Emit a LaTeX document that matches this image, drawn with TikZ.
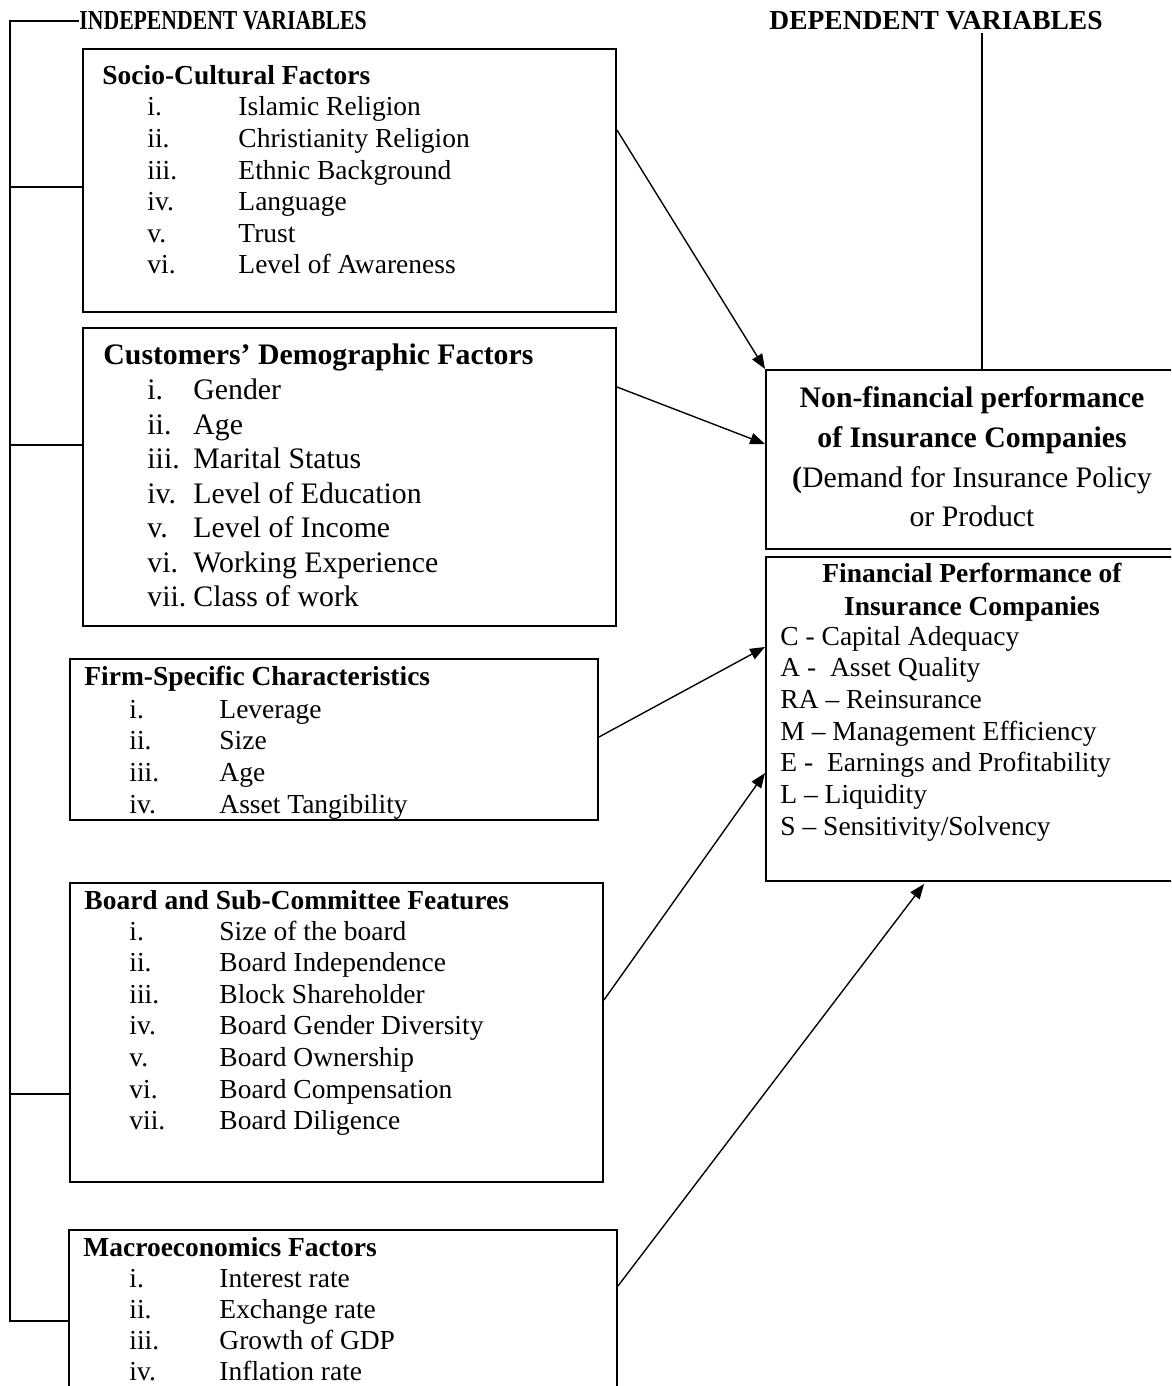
\documentclass[tikz,border=0pt]{standalone}
\usepackage{fontspec}
\setmainfont{Liberation Serif}
\usepackage{graphicx}
\usetikzlibrary{arrows.meta}
\newcommand\pxu{0.4367pt}
\tikzset{
  box/.style={draw, line width=0.85pt, inner sep=0pt, anchor=north west},
  conn/.style={line width=0.6pt},
  arr/.style={conn, -{Triangle[length=6.5pt,width=5pt]}},
  brk/.style={line width=0.75pt},
  txt/.style={inner sep=0pt, anchor=base west, font=\fontsize{12}{14}\selectfont},
  txtb/.style={inner sep=0pt, anchor=base west, font=\fontsize{12}{14}\selectfont\bfseries},
  txtl/.style={inner sep=0pt, anchor=base west, font=\fontsize{13}{15}\selectfont},
  txtlb/.style={inner sep=0pt, anchor=base west, font=\fontsize{13}{15}\selectfont\bfseries},
  ctxt/.style={inner sep=0pt, anchor=base, font=\fontsize{13}{15}\selectfont},
  ctxtb/.style={inner sep=0pt, anchor=base, font=\fontsize{13}{15}\selectfont\bfseries},
  fctxtb/.style={inner sep=0pt, anchor=base, font=\fontsize{12}{14}\selectfont\bfseries},
}
\begin{document}
\begin{tikzpicture}[x=\pxu, y=-\pxu]
\useasboundingbox (0,0) rectangle (1171,1386);
\clip (0,0) rectangle (1171,1386);

% boxes
\node[box, minimum width={533*\pxu}, minimum height={263*\pxu}] (b1) at (82,48) {};
\node[box, minimum width={533*\pxu}, minimum height={298*\pxu}] (b2) at (82,327) {};
\node[box, minimum width={528*\pxu}, minimum height={161*\pxu}] (b3) at (69,658) {};
\node[box, minimum width={533*\pxu}, minimum height={299*\pxu}] (b4) at (69,882) {};
\node[box, minimum width={548*\pxu}, minimum height={200*\pxu}] (b5) at (68,1229) {};
\node[box, minimum width={420*\pxu}, minimum height={179*\pxu}] (nf) at (765,369) {};
\node[box, minimum width={420*\pxu}, minimum height={324*\pxu}] (fp) at (765,556) {};

% titles
\node[txtb] (indep) at (79,30) {\scalebox{0.79}[1]{INDEPENDENT VARIABLES}};
\node[txtb] (dep) at (769,30) {DEPENDENT VARIABLES};

% box 1
\node[txtb] (b1h) at (102,85) {Socio-Cultural Factors};
\foreach \lab/\itxt [count=\k] in {i./Islamic Religion, ii./Christianity Religion, iii./Ethnic Background, iv./Language, v./Trust, vi./Level of Awareness}{
  \node[txt] (b1l\k) at (147,{116+31.6*(\k-1)}) {\lab};
  \node[txt] (b1t\k) at (238,{116+31.6*(\k-1)}) {\itxt};
}

% box 2
\node[txtlb] (b2h) at (103,365) {Customers’ Demographic Factors};
\foreach \lab/\itxt [count=\k] in {i./Gender, ii./Age, iii./Marital Status, iv./Level of Education, v./Level of Income, vi./Working Experience, vii./Class of work}{
  \node[txtl] (b2l\k) at (147,{400+34.4*(\k-1)}) {\lab};
  \node[txtl] (b2t\k) at (193,{400+34.4*(\k-1)}) {\itxt};
}

% box 3
\node[txtb] (b3h) at (84,685) {Firm-Specific Characteristics};
\foreach \lab/\itxt [count=\k] in {i./Leverage, ii./Size, iii./Age, iv./Asset Tangibility}{
  \node[txt] (b3l\k) at (129,{718+31.7*(\k-1)}) {\lab};
  \node[txt] (b3t\k) at (219,{718+31.7*(\k-1)}) {\itxt};
}

% box 4
\node[txtb] (b4h) at (84,909) {Board and Sub-Committee Features};
\foreach \lab/\itxt [count=\k] in {i./Size of the board, ii./Board Independence, iii./Block Shareholder, iv./Board Gender Diversity, v./Board Ownership, vi./Board Compensation, vii./Board Diligence}{
  \node[txt] (b4l\k) at (129,{940+31.6*(\k-1)}) {\lab};
  \node[txt] (b4t\k) at (219,{940+31.6*(\k-1)}) {\itxt};
}

% box 5
\node[txtb] (b5h) at (83,1256) {Macroeconomics Factors};
\foreach \lab/\itxt [count=\k] in {i./Interest rate, ii./Exchange rate, iii./Growth of GDP, iv./Inflation rate}{
  \node[txt] (b5l\k) at (129,{1287+31*(\k-1)}) {\lab};
  \node[txt] (b5t\k) at (219,{1287+31*(\k-1)}) {\itxt};
}

% non-financial box
\node[ctxtb] (nf1) at (972,408) {Non-financial performance};
\node[ctxtb] (nf2) at (972,448) {of Insurance Companies};
\node[ctxt] (nf3) at (972,488) {\textbf{(}Demand for Insurance Policy};
\node[ctxt] (nf4) at (972,527) {or Product};

% financial box
\node[fctxtb] (fp1) at (972,582) {Financial Performance of};
\node[fctxtb] (fp2) at (972,615) {Insurance Companies};
\foreach \itxt [count=\k] in {C - Capital Adequacy, A -\ \ Asset Quality, RA – Reinsurance, M – Management Efficiency, E -\ \ Earnings and Profitability, L – Liquidity, S – Sensitivity/Solvency}{
  \node[txt] (fpi\k) at (780,{645+31.7*(\k-1)}) {\itxt};
}

% bracket on the left
\coordinate (brT) at (10,20);
\coordinate (brB) at (10,1321);
\draw[brk] (indep.west) -- (indep.west -| brT) -- (brB) -- (brB -| b5.west);
\coordinate (k1) at (10,187);
\coordinate (k2) at (10,445);
\coordinate (k4) at (10,1094);
\draw[brk] (k1) -- (k1 -| b1.west);
\draw[brk] (k2) -- (k2 -| b2.west);
\draw[brk] (k4) -- (k4 -| b4.west);

% dependent line
\coordinate (dl) at (982,33);
\draw[conn] (dl) -- (dl |- nf.north);

% arrows
\coordinate (s1) at (615,130);
\draw[arr] (s1 -| b1.east) -- (nf.north west);
\coordinate (s2) at (615,387);
\coordinate (e2) at (765,444);
\draw[arr] (s2 -| b2.east) -- (e2 -| nf.west);
\coordinate (s3) at (597,737);
\coordinate (e3) at (765,647);
\draw[arr] (s3 -| b3.east) -- (e3 -| fp.west);
\coordinate (s4) at (601,1000);
\coordinate (e4) at (765,773);
\draw[arr] (s4 -| b4.east) -- (e4 -| fp.west);
\coordinate (s5) at (616,1286);
\coordinate (e5) at (924,884);
\draw[arr] (s5 -| b5.east) -- (e5);
\end{tikzpicture}
\end{document}
